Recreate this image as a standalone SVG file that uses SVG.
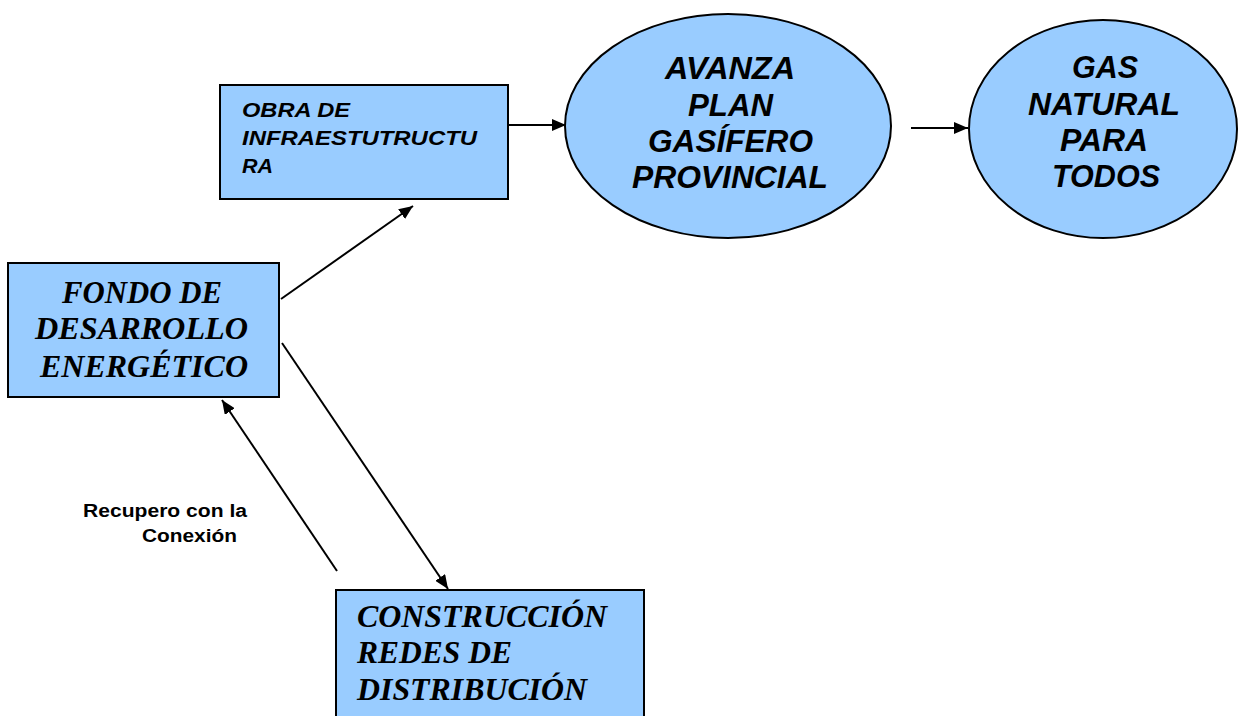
<svg xmlns="http://www.w3.org/2000/svg" width="1238" height="716" viewBox="0 0 1238 716">
<style>
.box{fill:#99CCFF;stroke:#000;stroke-width:2}
.ar{font-family:"Liberation Sans",Arial,sans-serif;font-weight:bold;font-style:italic;fill:#000}
.tm{font-family:"Liberation Serif","Times New Roman",serif;font-weight:bold;font-style:italic;fill:#000;font-size:31px}
.lbl{font-family:"Liberation Sans",Arial,sans-serif;font-weight:bold;font-size:18px;fill:#000}
.conn{stroke:#000;stroke-width:2;fill:none;marker-end:url(#ah)}
</style>
<defs>
<marker id="ah" markerWidth="14" markerHeight="12" refX="14" refY="6" orient="auto" markerUnits="userSpaceOnUse" viewBox="0 0 14 12">
<path d="M0,0 L14,6 L0,12 Z" fill="#000"/>
</marker>
</defs>
<rect width="1238" height="716" fill="#fff"/>
<g id="connectors">
<line class="conn" x1="508" y1="125" x2="566" y2="125"/>
<line class="conn" x1="911" y1="128" x2="968" y2="128"/>
<line class="conn" x1="281" y1="299" x2="413" y2="206"/>
<line class="conn" x1="282" y1="343" x2="448" y2="589"/>
<line class="conn" x1="337" y1="571" x2="222" y2="400"/>
</g>
<g id="obra">
<rect class="box" x="220" y="85" width="288" height="114"/>
<text class="ar" font-size="19.5" x="242" y="117" textLength="108" lengthAdjust="spacingAndGlyphs">OBRA DE</text>
<text class="ar" font-size="19.5" x="242" y="145" textLength="235" lengthAdjust="spacingAndGlyphs">INFRAESTUTRUCTU</text>
<text class="ar" font-size="19.5" x="242" y="173" textLength="31" lengthAdjust="spacingAndGlyphs">RA</text>
</g>
<g id="avanza">
<ellipse class="box" cx="728" cy="126" rx="163" ry="112"/>
<g class="ar" font-size="32">
<text x="665" y="79" textLength="130" lengthAdjust="spacingAndGlyphs">AVANZA</text>
<text x="688" y="116" textLength="85" lengthAdjust="spacingAndGlyphs">PLAN</text>
<text x="648" y="152" textLength="165" lengthAdjust="spacingAndGlyphs">GASÍFERO</text>
<text x="632" y="188" textLength="196" lengthAdjust="spacingAndGlyphs">PROVINCIAL</text>
</g>
</g>
<g id="gas">
<ellipse class="box" cx="1103" cy="129" rx="134" ry="109"/>
<g class="ar" font-size="32">
<text x="1072" y="78" textLength="66" lengthAdjust="spacingAndGlyphs">GAS</text>
<text x="1028" y="115" textLength="152" lengthAdjust="spacingAndGlyphs">NATURAL</text>
<text x="1060" y="151" textLength="88" lengthAdjust="spacingAndGlyphs">PARA</text>
<text x="1052" y="187" textLength="108" lengthAdjust="spacingAndGlyphs">TODOS</text>
</g>
</g>
<g id="fondo">
<rect class="box" x="8" y="263" width="271" height="134"/>
<text class="tm" x="62" y="303" textLength="160" lengthAdjust="spacingAndGlyphs">FONDO DE</text>
<text class="tm" x="35" y="339" textLength="213" lengthAdjust="spacingAndGlyphs">DESARROLLO</text>
<text class="tm" x="40" y="377" textLength="208" lengthAdjust="spacingAndGlyphs">ENERGÉTICO</text>
</g>
<g id="construccion">
<rect class="box" x="336" y="590" width="308" height="140"/>
<text class="tm" x="357" y="627" textLength="250" lengthAdjust="spacingAndGlyphs">CONSTRUCCIÓN</text>
<text class="tm" x="357" y="663" textLength="155" lengthAdjust="spacingAndGlyphs">REDES DE</text>
<text class="tm" x="357" y="700" textLength="230" lengthAdjust="spacingAndGlyphs">DISTRIBUCIÓN</text>
</g>
<g id="label">
<text class="lbl" x="83" y="517" textLength="164" lengthAdjust="spacingAndGlyphs">Recupero con la</text>
<text class="lbl" x="142" y="542" textLength="95" lengthAdjust="spacingAndGlyphs">Conexión</text>
</g>
</svg>
